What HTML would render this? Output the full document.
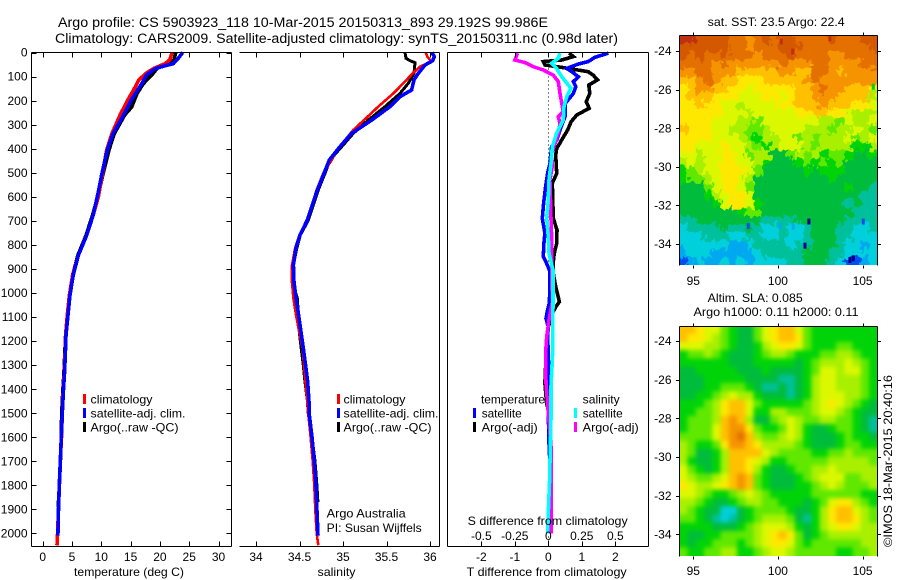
<!DOCTYPE html>
<html lang="en">
<head>
<meta charset="utf-8">
<title>Argo profile CS 5903923_118</title>
<style>
html,body{margin:0;padding:0;background:#fff;width:900px;height:580px;overflow:hidden}
svg{display:block}
text{font-family:"Liberation Sans",sans-serif;font-size:12px;fill:#000}
.ax{stroke:#000;stroke-width:1;shape-rendering:crispEdges;fill:none}
.ser{fill:none;stroke-width:3;shape-rendering:crispEdges;stroke-linejoin:miter}
</style>
</head>
<body>
<svg id="chart" xmlns="http://www.w3.org/2000/svg" width="900" height="580" viewBox="0 0 900 580">
  <defs>
    <clipPath id="sst-clip"><rect x="680" y="36" width="197" height="229"/></clipPath>
    <clipPath id="sla-clip"><rect x="680" y="326" width="197" height="230"/></clipPath>
    <filter id="sla-blur" x="665" y="311" width="227" height="260" filterUnits="userSpaceOnUse" color-interpolation-filters="sRGB">
      <feGaussianBlur stdDeviation="2.2"/>
    </filter>
    <filter id="sst-jag" x="665" y="21" width="227" height="260" filterUnits="userSpaceOnUse" color-interpolation-filters="sRGB">
      <feTurbulence type="fractalNoise" baseFrequency="0.2 0.16" numOctaves="2" seed="4" result="noise"/>
      <feDisplacementMap in="SourceGraphic" in2="noise" scale="13" xChannelSelector="R" yChannelSelector="G"/>
    </filter>
  </defs>
  <text x="58" y="27" textLength="490" lengthAdjust="spacingAndGlyphs" style="font-size:13.5px">Argo profile: CS 5903923_118 10-Mar-2015 20150313_893 29.192S 99.986E</text>
  <text x="55" y="43" textLength="563" lengthAdjust="spacingAndGlyphs" style="font-size:13.5px">Climatology: CARS2009. Satellite-adjusted climatology: synTS_20150311.nc (0.98d later)</text>

  <g id="p1"></g>
  <g id="p2"></g>
  <g id="p3"></g>

  <g>
    <rect x="83" y="394" width="3" height="10" fill="#f00"/>
    <rect x="83" y="408" width="3" height="10" fill="#00f"/>
    <rect x="83" y="422" width="3" height="10" fill="#000"/>
    <text x="90.5" y="403.5" textLength="62" lengthAdjust="spacingAndGlyphs">climatology</text>
    <text x="90.5" y="417.5" textLength="95" lengthAdjust="spacingAndGlyphs">satellite-adj. clim.</text>
    <text x="90.5" y="431.5" textLength="88" lengthAdjust="spacingAndGlyphs">Argo(..raw -QC)</text>
  </g>
  <g>
    <rect x="337" y="394" width="3" height="10" fill="#f00"/>
    <rect x="337" y="408" width="3" height="10" fill="#00f"/>
    <rect x="337" y="422" width="3" height="10" fill="#000"/>
    <text x="343.5" y="403.5" textLength="62" lengthAdjust="spacingAndGlyphs">climatology</text>
    <text x="343.5" y="417.5" textLength="95" lengthAdjust="spacingAndGlyphs">satellite-adj. clim.</text>
    <text x="343.5" y="431.5" textLength="88" lengthAdjust="spacingAndGlyphs">Argo(..raw -QC)</text>
  </g>
  <text x="326.7" y="517.5" textLength="79" lengthAdjust="spacingAndGlyphs">Argo Australia</text>
  <text x="326.7" y="532" textLength="95" lengthAdjust="spacingAndGlyphs">PI: Susan Wijffels</text>

  <g>
    <text x="481" y="403.5" textLength="64" lengthAdjust="spacingAndGlyphs">temperature</text>
    <text x="582.7" y="403.5" textLength="37" lengthAdjust="spacingAndGlyphs">salinity</text>
    <rect x="473" y="408" width="3" height="10" fill="#00f"/>
    <rect x="473" y="422" width="3" height="10" fill="#000"/>
    <rect x="574" y="408" width="3" height="10" fill="#0ff"/>
    <rect x="574" y="422" width="3" height="10" fill="#f0f"/>
    <text x="481.7" y="417.5" textLength="40" lengthAdjust="spacingAndGlyphs">satellite</text>
    <text x="481.7" y="431.5" textLength="56" lengthAdjust="spacingAndGlyphs">Argo(-adj)</text>
    <text x="582.7" y="417.5" textLength="40" lengthAdjust="spacingAndGlyphs">satellite</text>
    <text x="582.7" y="431.5" textLength="56" lengthAdjust="spacingAndGlyphs">Argo(-adj)</text>
  </g>

  <text x="74" y="576" textLength="110" lengthAdjust="spacingAndGlyphs">temperature (deg C)</text>
  <text x="317.5" y="576" textLength="38" lengthAdjust="spacingAndGlyphs">salinity</text>
  <text x="466.7" y="576" textLength="160" lengthAdjust="spacingAndGlyphs">T difference from climatology</text>
  <text x="467.7" y="525" textLength="160" lengthAdjust="spacingAndGlyphs">S difference from climatology</text>

  <g id="m1"></g>
  <g id="m2"></g>

  <text x="707.7" y="26" textLength="137" lengthAdjust="spacingAndGlyphs">sat. SST: 23.5 Argo: 22.4</text>
  <text x="707.7" y="302" textLength="95" lengthAdjust="spacingAndGlyphs">Altim. SLA: 0.085</text>
  <text x="693.5" y="316" textLength="165" lengthAdjust="spacingAndGlyphs">Argo h1000: 0.11 h2000: 0.11</text>
  <text transform="translate(892,547) rotate(-90)" textLength="172" lengthAdjust="spacingAndGlyphs">©IMOS 18-Mar-2015 20:40:16</text>
</svg>
<script>
// ---- profile tick labels ----
var depthTicks = [0,100,200,300,400,500,600,700,800,900,1000,1100,1200,1300,1400,1500,1600,1700,1800,1900,2000];
var tempTicks = [0,5,10,15,20,25,30];
var salTicks = [34,34.5,35,35.5,36];
var tDiffTicks = [-2,-1,0,1,2];
var sDiffTicks = [-0.5,-0.25,0,0.25,0.5];
var lonTicks = [95,100,105];
var latTicks = [-24,-26,-28,-30,-32,-34];

// ---- temperature profiles ----
var tempClimDepth = [0,30,46,67,87,115,157,198,260,338,407,504,600,677,760,843,926,1009,1092,1175,1259,1342,1400,1500,1600,1700,1800,1900,2000,2050];
var tempClim = [22.06,21.7,20.9,18.9,17.6,16.4,15.5,14.5,13.2,11.8,10.9,10.2,9.5,8.6,7.5,6.1,5.1,4.55,4.2,3.9,3.8,3.65,3.5,3.35,3.2,3.0,2.85,2.7,2.55,2.44];
var tempSatDepth = [0,25,46,57,67,94,122,157,198,260,338,407,504,590,677,760,843,926,1009,1092,1175,1259,1342,1400,1500,1600,1700,1800,1900,2010];
var tempSat = [23.9,23.1,22.3,20.6,19.2,17.7,17.1,16.2,15.1,13.8,12.0,11.0,10.1,9.4,8.6,7.5,6.1,5.2,4.66,4.32,3.98,3.86,3.7,3.55,3.35,3.17,3.0,2.83,2.7,2.6];
var tempArgoDepth = [0,32,46,67,94,129,171,226,260,338,407,504,590,677,760,843,926,1009,1092,1175,1259,1342,1400,1500,1600,1650,1700,1800,1890];
var tempArgo = [22.7,22.4,20.9,19.5,18.6,17.2,16.1,15.2,14.0,12.2,11.3,10.3,9.5,8.5,7.4,6.0,5.1,4.6,4.2,3.9,3.75,3.6,3.45,3.25,3.15,3.1,3.02,2.85,2.65];

// ---- salinity profiles ----
var salClimDepth = [0,17,38,59,87,128,170,225,281,322,364,406,447,503,572,697,759,813,884,955,1022,1092,1163,1230,1301,1500,1600,1700,1800,1900,2000,2050];
var salClim = [35.95,35.969,36.015,35.885,35.801,35.693,35.579,35.406,35.241,35.119,35.023,34.927,34.87,34.774,34.697,34.59,34.5,34.45,34.414,34.414,34.43,34.46,34.498,34.536,34.552,34.6,34.628,34.652,34.67,34.682,34.698,34.716];
var salSatDepth = [0,17,34,52,87,114,156,184,225,281,336,392,447,503,572,697,759,813,884,955,1022,1092,1163,1230,1301,1371,1458,1500,1600,1700,1800,1900,2010];
var salSat = [36.019,36.05,36.031,35.943,35.866,35.816,35.789,35.655,35.54,35.33,35.1,34.966,34.843,34.782,34.705,34.59,34.506,34.46,34.43,34.437,34.46,34.49,34.517,34.544,34.57,34.594,34.61,34.61,34.644,34.67,34.69,34.7,34.713];
var salArgoDepth = [0,24,34,42,87,128,170,225,281,336,392,447,503,572,697,759,813,884,955,1022,1092,1163,1230,1301,1371,1447,1500,1600,1700,1800,1870];
var salArgo = [35.713,35.724,35.77,35.828,35.816,35.751,35.655,35.483,35.291,35.119,34.985,34.851,34.793,34.716,34.602,34.51,34.47,34.43,34.42,34.475,34.487,34.498,34.52,34.544,34.563,34.59,34.6,34.644,34.678,34.7,34.712];

// ---- difference profiles ----
var dTempSatDepth = [3,20,38,48,66,80,101,121,142,170,211,267,322,364,392,461,503,558,628,690,752,794,849,877,912,974,1044,1071,1106,1141,1182,1252,1376,1501,1625,1806,2000];
var dTempSat = [1.79,1.39,1.19,0.9,0.55,0.7,0.9,0.75,0.82,0.75,0.51,0.5,0.35,0.25,0.1,0.05,-0.02,-0.08,-0.14,-0.18,-0.1,-0.13,-0.15,-0.05,0.05,0.05,0.03,-0.02,-0.07,0,-0.02,0,0.02,0,0.02,0.08,0.08];
var dTempArgoDepth = [3,17,31,38,52,62,80,94,114,135,170,205,232,260,288,322,364,399,426,503,544,690,738,794,835,870,919,974,1037,1057,1085,1141,1210,1376,1459,1473];
var dTempArgo = [0.62,0.75,0.4,-0.15,-0.1,0.4,1.19,1.34,1.47,1.21,1.24,1.13,1.22,0.85,0.68,0.58,0.4,0.25,0.22,0.25,0.12,0.15,0.26,0.25,0.18,0.15,0.15,0.22,0.33,0.23,0.12,0,-0.05,-0.1,-0.05,-0.03];
var dSalArgoDepth = [3,31,42,59,73,94,121,170,211,246,267,295,336,378,419,475,530,690,766,835,905,1037,1113,1182,1252,1376,1501,1639,1757,1917,2000];
var dSalArgo = [-0.229,-0.249,-0.174,-0.112,-0.037,0.037,0.075,0.087,0.1,0.112,0.075,0.087,0.075,0.05,0.025,0.03,0.012,0.02,0.025,0.025,0.025,0.03,0.005,-0.012,-0.02,-0.017,0,0.02,0.02,0.02,0.02];
var dSalSatDepth = [3,24,45,66,101,149,184,225,281,336,392,461,530,614,690,766,835,905,1044,1252,1390,1522,1639,1778,1917,2000];
var dSalSat = [0.087,0.075,0.025,0.062,0.1,0.169,0.137,0.117,0.112,0.062,0.03,0.02,0.005,0,-0.012,0,0.005,0.035,0.035,0.032,0.02,0.02,0.015,0.01,0,-0.005];

// ---- map colour levels ----
var levelColors = ['#00008c','#0050f0','#00a8f0','#00d0dc','#00c09c','#00bc3c','#00d408','#60e800','#a8f000','#dcf800','#ffe800','#ffc000','#f59400','#e47000','#d45800','#c03010'];

// ---- sea surface temperature map (colour level per cell, north to south) ----
var sstGrid = [
[15,15,14,14,14,14,13,13,12,13,14,13,14,14,13,13,13,13,14,13,13,13,14,14],
[14,14,14,14,14,14,13,13,12,13,13,13,14,14,14,13,13,13,13,13,13,13,13,14],
[14,13,14,13,13,14,13,13,13,12,13,13,13,14,13,13,13,13,12,12,13,13,13,13],
[13,13,13,13,12,13,12,12,12,12,12,12,13,12,12,12,13,13,12,12,12,12,13,13],
[12,12,13,13,12,12,12,11,11,11,11,11,12,12,11,11,13,13,12,11,12,12,12,12],
[11,11,12,13,12,11,11,10,10,10,11,11,11,11,11,12,13,12,12,12,12,12,12,12],
[10,11,12,12,11,11,10,10,9,10,10,10,10,10,11,11,12,13,12,12,11,11,11,10],
[10,11,11,11,10,10,10,9,9,9,10,10,9,10,11,11,12,12,12,11,11,11,11,8],
[10,10,11,10,10,9,9,8,9,9,9,9,10,10,11,11,11,12,11,11,11,10,10,9],
[10,10,10,10,10,9,9,9,8,9,9,9,9,9,10,10,11,11,10,10,9,8,8,8],
[10,10,10,10,9,9,9,8,8,7,9,9,9,9,9,9,9,8,8,7,9,8,8,9],
[11,10,10,10,9,9,8,8,7,7,8,9,9,9,9,8,8,8,7,8,8,9,8,7],
[10,10,10,10,9,9,9,8,7,6,8,8,9,9,7,8,7,8,8,8,9,7,8,9],
[10,10,9,9,9,10,9,9,8,7,6,8,9,9,9,8,7,8,8,8,8,6,6,8],
[9,9,8,9,9,10,10,9,7,8,8,5,5,7,8,7,8,6,7,7,6,5,5,6],
[8,9,8,9,9,10,10,9,9,8,6,5,5,5,6,7,6,7,6,7,5,5,5,5],
[6,7,8,9,9,10,10,10,9,7,5,5,5,5,5,6,5,6,6,6,5,5,5,5],
[6,7,7,8,9,10,10,9,8,5,5,5,5,5,5,5,5,5,6,5,5,5,5,5],
[5,5,5,7,9,10,10,9,7,5,5,5,5,5,5,5,5,5,5,5,6,5,5,4],
[5,5,5,6,8,9,10,10,9,5,5,5,5,5,5,5,5,5,5,5,5,5,4,4],
[5,5,5,5,6,9,10,10,9,6,5,5,5,5,5,5,5,5,5,5,4,5,4,4],
[5,5,5,5,5,5,5,6,7,7,5,5,5,5,5,5,5,5,5,5,5,4,4,4],
[4,4,5,5,5,5,5,5,5,5,4,4,4,4,5,5,5,5,5,5,4,4,4,4],
[3,4,4,4,4,5,4,4,5,4,3,3,4,3,3,4,5,5,5,4,4,3,3,4],
[3,3,3,4,4,4,3,3,4,4,3,3,4,3,3,4,5,5,5,4,4,3,3,3],
[3,3,3,3,3,3,2,2,3,4,4,4,4,3,4,4,5,5,5,4,3,3,2,3],
[2,3,3,3,2,2,2,2,2,3,4,4,4,4,4,5,5,5,4,4,3,3,3,3],
[1,2,3,2,2,3,2,3,2,3,3,3,3,4,4,5,5,5,4,3,1,1,2,3]
];
var sstSpeckLon = [98.25,101.83,101.6,105.04,104.25,104.45,100.2,100.87,103.07,105.63,100.13,100.9];
var sstSpeckLat = [-33.07,-32.84,-34.09,-32.84,-34.83,-34.74,-23.5,-24.03,-23.34,-25.85,-33.07,-33.1];
var sstSpeckLevel = [1,0,0,1,0,0,15,15,15,6,2,2];

// ---- sea level anomaly map (colour level per cell, north to south) ----
var slaGrid = [
[11,11,10,9,9,7,6,5,5,7,9,10,11,11,9,7,6,6,6,6,6,6,6,6],
[11,10,10,9,8,7,6,5,5,7,9,10,11,11,10,7,6,6,6,6,6,6,6,6],
[9,9,9,8,8,7,6,5,5,6,8,9,10,10,9,7,6,6,6,7,7,6,6,6],
[6,7,7,8,7,6,5,5,5,6,7,8,8,7,6,6,6,7,7,8,8,7,6,6],
[6,6,6,6,6,6,5,5,5,6,6,6,6,6,5,6,7,8,8,8,9,8,7,6],
[5,5,6,6,6,6,6,5,5,5,6,5,5,5,5,6,7,9,9,8,9,9,7,6],
[5,5,5,6,6,6,6,6,5,5,5,5,4,4,5,6,8,9,9,8,8,8,7,6],
[5,5,5,6,6,7,7,7,6,5,4,4,5,4,5,6,8,9,9,8,8,8,7,6],
[5,5,6,6,7,8,9,8,8,6,5,5,5,4,5,6,8,9,9,9,8,8,7,6],
[6,6,6,7,8,10,11,11,9,7,6,6,6,6,6,7,8,9,10,9,8,7,6,5],
[6,6,7,7,8,10,11,11,9,6,6,8,8,7,7,7,8,9,9,8,7,6,5,5],
[6,7,7,7,8,11,12,11,8,5,5,7,8,9,8,7,7,8,8,7,7,6,5,4],
[6,7,7,7,9,11,12,12,10,7,6,6,7,9,8,6,5,5,6,7,7,6,5,4],
[7,7,7,7,9,11,12,13,11,8,7,7,8,9,8,6,5,5,5,6,7,6,6,5],
[8,7,6,6,7,10,12,12,11,10,8,8,8,8,7,6,5,5,5,6,7,7,6,6],
[8,7,5,5,6,8,11,11,11,11,9,8,7,7,7,7,6,6,7,7,8,7,7,7],
[8,6,5,5,6,8,11,11,10,9,8,6,6,7,7,7,7,7,8,8,8,8,8,7],
[9,7,6,5,6,8,11,11,10,8,6,5,5,6,7,7,8,8,9,8,8,8,8,8],
[9,8,7,7,8,9,11,12,11,7,6,5,5,5,6,7,8,9,9,9,7,7,8,8],
[10,9,8,8,9,10,11,12,11,7,6,5,5,5,6,6,7,8,9,8,7,7,7,8],
[9,9,8,7,6,6,7,8,9,8,7,6,6,6,6,6,7,7,7,7,7,7,6,6],
[8,8,7,6,5,5,6,7,8,8,7,7,6,6,6,5,6,7,9,10,10,8,7,6],
[8,7,6,5,5,3,3,5,6,7,7,7,7,6,5,5,6,8,10,11,11,9,8,7],
[7,7,6,5,4,3,4,5,6,7,8,8,8,7,5,4,6,8,10,11,11,10,8,7],
[6,6,6,6,5,5,5,6,7,8,9,9,9,8,6,5,6,8,9,10,10,9,8,8],
[6,5,5,6,6,7,7,7,7,8,9,10,11,10,7,5,6,7,8,8,8,8,8,8],
[6,5,6,6,7,7,7,6,7,8,9,10,10,9,7,6,7,7,7,7,7,7,8,8],
[7,6,6,7,7,8,8,6,6,7,8,9,9,8,7,7,7,7,7,6,6,7,7,8]
];

var NS = 'http://www.w3.org/2000/svg';
function make(parent, tag, attrs, txt) {
  var el = document.createElementNS(NS, tag);
  for (var k in attrs) el.setAttribute(k, attrs[k]);
  if (txt !== undefined) el.textContent = txt;
  parent.appendChild(el);
  return el;
}

// axis scales
function yDepth(d) { return 52.5 + d * 0.2404; }
function xTemp(t) { return 42.7 + t * 5.86; }
function xSal(s) { return 256 + (s - 34) * 87; }
function xDT(t) { return 548.3 + t * 33.5; }
function xDS(s) { return 548.3 + s * 134; }

function frameLine(g, x1, y1, x2, y2) {
  var el = make(g, 'line', {x1: x1, y1: y1, x2: x2, y2: y2, 'class': 'ax'});
  
  
}
function tickLine(g, x1, y1, x2, y2) {
  var el = make(g, 'line', {x1: x1, y1: y1, x2: x2, y2: y2, 'class': 'ax'});
  
  
}
function label(g, x, y, anchor, s) {
  var el = make(g, 'text', {x: x, y: y, 'text-anchor': anchor}, s);
  
  
}
function series(g, name, depths, vals, xf, color, width) {
  var pts = depths.map(function (d, i) { return xf(vals[i]).toFixed(1) + ',' + yDepth(d).toFixed(1); }).join(' ');
  var el = make(g, 'polyline', {points: pts, stroke: color, 'class': 'ser', style: 'stroke-width:' + (width || 3.6) + 'px'});
  
  
}
function xAxis(g, ticks, xf, labelY, fmt) {
  ticks.forEach(function (t) {
    var x = Math.round(xf(t)) + 0.5;
    tickLine(g, x, 52.5, x, 57.5);
    tickLine(g, x, 541.5, x, 546.5);
    label(g, xf(t), labelY, 'middle', fmt ? fmt(t) : String(t));
  });
}

// panel 1: temperature
var p1 = document.getElementById('p1');
series(p1, 'argo-temperature-line', tempArgoDepth, tempArgo, xTemp, '#000');
series(p1, 'climatology-temperature-line', tempClimDepth, tempClim, xTemp, '#f00');
series(p1, 'satellite-temperature-line', tempSatDepth, tempSat, xTemp, '#00f');
frameLine(p1, 31.5, 52.5, 231.5, 52.5);
frameLine(p1, 31.5, 546.5, 231.5, 546.5);
frameLine(p1, 31.5, 52.5, 31.5, 546.5);
frameLine(p1, 231.5, 52.5, 231.5, 546.5);
depthTicks.forEach(function (d) {
  var y = Math.round(yDepth(d)) + 0.5;
  tickLine(p1, 31.5, y, 36.5, y);
  tickLine(p1, 226.5, y, 231.5, y);
  label(p1, 27.5, yDepth(d) + 4.2, 'end', String(d));
});
xAxis(p1, tempTicks, xTemp, 561);

// panel 2: salinity
var p2 = document.getElementById('p2');
series(p2, 'argo-salinity-line', salArgoDepth, salArgo, xSal, '#000', 3);
series(p2, 'climatology-salinity-line', salClimDepth, salClim, xSal, '#f00', 2.6);
series(p2, 'satellite-salinity-line', salSatDepth, salSat, xSal, '#00f');
frameLine(p2, 239.5, 52.5, 439.5, 52.5);
frameLine(p2, 239.5, 546.5, 439.5, 546.5);
frameLine(p2, 439.5, 52.5, 439.5, 546.5);
xAxis(p2, salTicks, xSal, 561);

// panel 3: differences
var p3 = document.getElementById('p3');
var zero = make(p3, 'line', {x1: 548.5, y1: 52.5, x2: 548.5, y2: 546, stroke: '#000', 'stroke-width': 1, 'stroke-dasharray': '1 3', 'shape-rendering': 'crispEdges'});


series(p3, 'argo-temperature-difference-line', dTempArgoDepth, dTempArgo, xDT, '#000');
series(p3, 'satellite-temperature-difference-line', dTempSatDepth, dTempSat, xDT, '#00f');
series(p3, 'argo-salinity-difference-line', dSalArgoDepth, dSalArgo, xDS, '#f0f');
series(p3, 'satellite-salinity-difference-line', dSalSatDepth, dSalSat, xDS, '#0ff');
frameLine(p3, 447.5, 52.5, 648.5, 52.5);
frameLine(p3, 447.5, 546.5, 648.5, 546.5);
frameLine(p3, 447.5, 52.5, 447.5, 546.5);
frameLine(p3, 648.5, 52.5, 648.5, 546.5);
xAxis(p3, tDiffTicks, xDT, 561);
sDiffTicks.forEach(function (s) {
  label(p3, xDS(s), 540, 'middle', String(s));
});

// maps
var lonLeft = 94.17, lonRight = 105.87;
function xLon(lon) { return 693.3 + (lon - 95) * 16.93; }

function drawMap(id, clipId, grid, yLat, latTop, latBottom, cellName, filterId) {
  var g = document.getElementById(id);
  var top = yLat(latTop), bottom = yLat(latBottom);
  var holder = make(g, 'g', {'clip-path': 'url(#' + clipId + ')'});
  
  
  var cellsG = make(holder, 'g', {filter: 'url(#' + filterId + ')'});
  
  
  var rows = grid.length, cols = grid[0].length;
  var dLon = (lonRight - lonLeft) / cols, dLat = (latTop - latBottom) / rows;
  var pad = 14; // edge cells bleed under the clip so the filters have colour to sample
  grid.forEach(function (row, r) {
    row.forEach(function (v, c) {
      var x0 = xLon(lonLeft + c * dLon), x1 = xLon(lonLeft + (c + 1) * dLon) + 0.6;
      var y0 = yLat(latTop - r * dLat), y1 = yLat(latTop - (r + 1) * dLat) + 0.6;
      if (c === 0) x0 -= pad;
      if (c === cols - 1) x1 += pad;
      if (r === 0) y0 -= pad;
      if (r === rows - 1) y1 += pad;
      var cell = make(cellsG, 'rect', {x: x0.toFixed(2), y: y0.toFixed(2), width: (x1 - x0).toFixed(2), height: (y1 - y0).toFixed(2), fill: levelColors[Math.round(v)]});
      
      
    });
  });
  return {g: g, top: top, bottom: bottom, holder: holder};
}
function mapAxes(m, yLat, labelY) {
  var g = m.g, t = Math.round(m.top) + 0.5, b = Math.round(m.bottom) + 0.5;
  frameLine(g, 679.5, t, 877.5, t);
  frameLine(g, 679.5, t, 679.5, b);
  frameLine(g, 877.5, t, 877.5, b);
  latTicks.forEach(function (lat) {
    var y = Math.round(yLat(lat)) + 0.5;
    tickLine(g, 676, y, 679.5, y);
    tickLine(g, 877.5, y, 881, y);
    label(g, 671.5, yLat(lat) + 4.2, 'end', String(lat));
  });
  lonTicks.forEach(function (lon) {
    var x = Math.round(xLon(lon)) + 0.5;
    tickLine(g, x, t - 3, x, t);
    tickLine(g, x, b, x, b + 3);
    label(g, xLon(lon), labelY, 'middle', String(lon));
  });
}

function ySst(lat) { return 51 + (-24 - lat) * 19.3; }
function ySla(lat) { return 341 + (-24 - lat) * 19.33; }

var sstMap = drawMap('m1', 'sst-clip', sstGrid, ySst, -23.17, -35.1, 'sst-cell', 'sst-jag');
sstSpeckLon.forEach(function (lon, i) {
  var sp = make(sstMap.holder, 'rect', {x: (xLon(lon) - 1.5).toFixed(1), y: (ySst(sstSpeckLat[i]) - 3).toFixed(1), width: 3, height: 6, fill: levelColors[sstSpeckLevel[i]]});
  
  
});
mapAxes(sstMap, ySst, 285);

var slaMap = drawMap('m2', 'sla-clip', slaGrid, ySla, -23.2, -35.1, 'sla-cell', 'sla-blur');
mapAxes(slaMap, ySla, 575);
</script>
</body>
</html>
